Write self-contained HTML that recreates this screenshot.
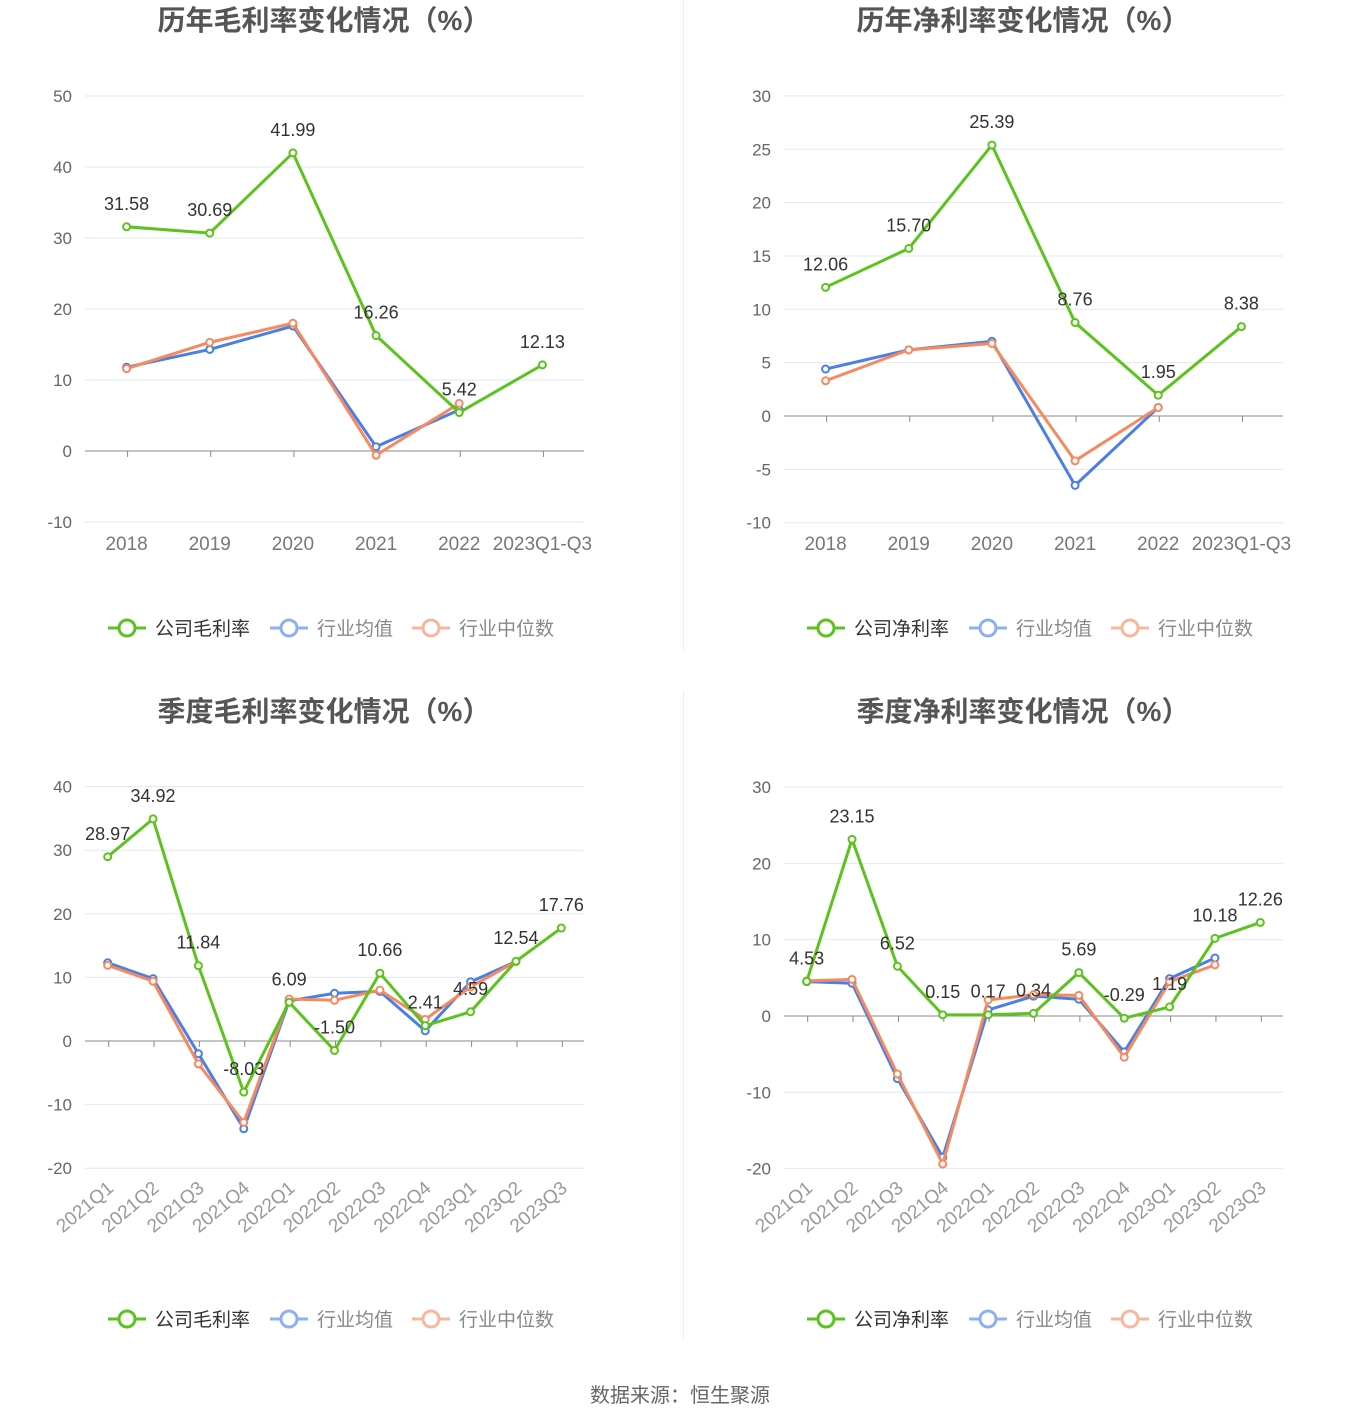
<!DOCTYPE html>
<html><head><meta charset="utf-8">
<style>
html,body{margin:0;padding:0;background:#fff;}
svg{display:block;font-family:"Liberation Sans","Noto Sans CJK SC",sans-serif;}
</style></head>
<body>
<svg id="s" width="1360" height="1425" xmlns="http://www.w3.org/2000/svg"></svg>
<script>
const G="#5cc21d",B="#4a7fe6",O="#f58a5f";
const svg=document.getElementById('s');
let h='';
h+='<line x1="683.5" y1="0" x2="683.5" y2="650" stroke="#eee"/>';
h+='<line x1="683.5" y1="690" x2="683.5" y2="1340" stroke="#eee"/>';
function chart(o){
  const {ox,title,ty,ticks,y0,ppu,cats,rot,data,leg,ly,yb}=o;
  h+=`<text x="${ox+324}" y="${ty}" text-anchor="middle" font-size="28" font-weight="bold" fill="#555">${title}</text>`;
  const x0=ox+85,x1=ox+584;
  ticks.forEach(t=>{const y=y0-t*ppu;
    h+=`<line x1="${x0}" y1="${y}" x2="${x1}" y2="${y}" stroke="${t==0?'#888':'#e3e7f1'}" stroke-width="1"/>`;
    h+=`<text x="${x0-13}" y="${y+6}" text-anchor="end" font-size="17" fill="#666">${t}</text>`;});
  const n=cats.length,w=(x1-x0)/n;
  const cx=i=>x0+w*(i+0.5);
  cats.forEach((c,i)=>{const x=cx(i);
    h+=`<line x1="${x+1}" y1="${y0}" x2="${x+1}" y2="${y0+6}" stroke="#888"/>`;
    if(rot){h+=`<text transform="translate(${x+7},${yb+22}) rotate(-40)" text-anchor="end" font-size="19" fill="#999">${c}</text>`;}
    else h+=`<text x="${x}" y="${yb+28}" text-anchor="middle" font-size="19" fill="#777">${c}</text>`;});
  const ser=(arr,col,lab)=>{let p=[];arr.forEach((v,i)=>{if(v!==null)p.push([cx(i),y0-v*ppu]);});
    h+=`<polyline points="${p.map(a=>a.join(',')).join(' ')}" fill="none" stroke="${col}" stroke-width="3"/>`;
    p.forEach(a=>h+=`<circle cx="${a[0]}" cy="${a[1]}" r="3.5" fill="#fff" stroke="${col}" stroke-width="2"/>`);
    if(lab)arr.forEach((v,i)=>{h+=`<text x="${cx(i)}" y="${y0-v*ppu-17}" text-anchor="middle" font-size="18" fill="#333">${v.toFixed(2)}</text>`;});};
  ser(data[1],B);ser(data[2],O);ser(data[0],G,true);
  const items=[[leg,G,"#333"],["行业均值","#8fb0ef","#888"],["行业中位数","#f7b79c","#888"]];
  let lx=ox+108;
  items.forEach((it,k)=>{h+=`<line x1="${lx}" y1="${ly}" x2="${lx+38}" y2="${ly}" stroke="${it[1]}" stroke-width="3"/><circle cx="${lx+19}" cy="${ly}" r="8" fill="#fff" stroke="${it[1]}" stroke-width="3"/>`;
    h+=`<text x="${lx+47}" y="${ly+7}" font-size="19" fill="${it[2]}">${it[0]}</text>`;
    lx+= k==0?162:142;});
}
const yc=["2018","2019","2020","2021","2022","2023Q1-Q3"];
const qc=["2021Q1","2021Q2","2021Q3","2021Q4","2022Q1","2022Q2","2022Q3","2022Q4","2023Q1","2023Q2","2023Q3"];
chart({ox:0,title:"历年毛利率变化情况（%）",ty:30,ticks:[50,40,30,20,10,0,-10],y0:451,ppu:7.1,cats:yc,rot:false,leg:"公司毛利率",ly:628,yb:522,
 data:[[31.58,30.69,41.99,16.26,5.42,12.13],[11.8,14.3,17.6,0.6,5.8,null],[11.6,15.3,18.0,-0.6,6.7,null]]});
chart({ox:699,title:"历年净利率变化情况（%）",ty:30,ticks:[30,25,20,15,10,5,0,-5,-10],y0:416,ppu:10.67,cats:yc,rot:false,leg:"公司净利率",ly:628,yb:522,
 data:[[12.06,15.70,25.39,8.76,1.95,8.38],[4.4,6.2,7.0,-6.5,0.8,null],[3.3,6.2,6.8,-4.2,0.8,null]]});
chart({ox:0,title:"季度毛利率变化情况（%）",ty:721,ticks:[40,30,20,10,0,-10,-20],y0:1041,ppu:6.36,cats:qc,rot:true,leg:"公司毛利率",ly:1319,yb:1168,
 data:[[28.97,34.92,11.84,-8.03,6.09,-1.50,10.66,2.41,4.59,12.54,17.76],[12.3,9.8,-2.0,-13.8,6.3,7.5,7.8,1.6,9.3,12.5,null],[11.9,9.4,-3.6,-12.8,6.6,6.4,8.0,3.4,8.5,12.5,null]]});
chart({ox:699,title:"季度净利率变化情况（%）",ty:721,ticks:[30,20,10,0,-10,-20],y0:1016,ppu:7.63,cats:qc,rot:true,leg:"公司净利率",ly:1319,yb:1168,
 data:[[4.53,23.15,6.52,0.15,0.17,0.34,5.69,-0.29,1.19,10.18,12.26],[4.5,4.3,-8.2,-18.5,0.8,2.6,2.2,-4.7,4.9,7.6,null],[4.6,4.8,-7.6,-19.4,2.1,2.8,2.7,-5.4,4.5,6.7,null]]});
h+='<text x="680" y="1402" text-anchor="middle" font-size="20" fill="#666">数据来源：恒生聚源</text>';
svg.innerHTML=h;
</script>
</body></html>
